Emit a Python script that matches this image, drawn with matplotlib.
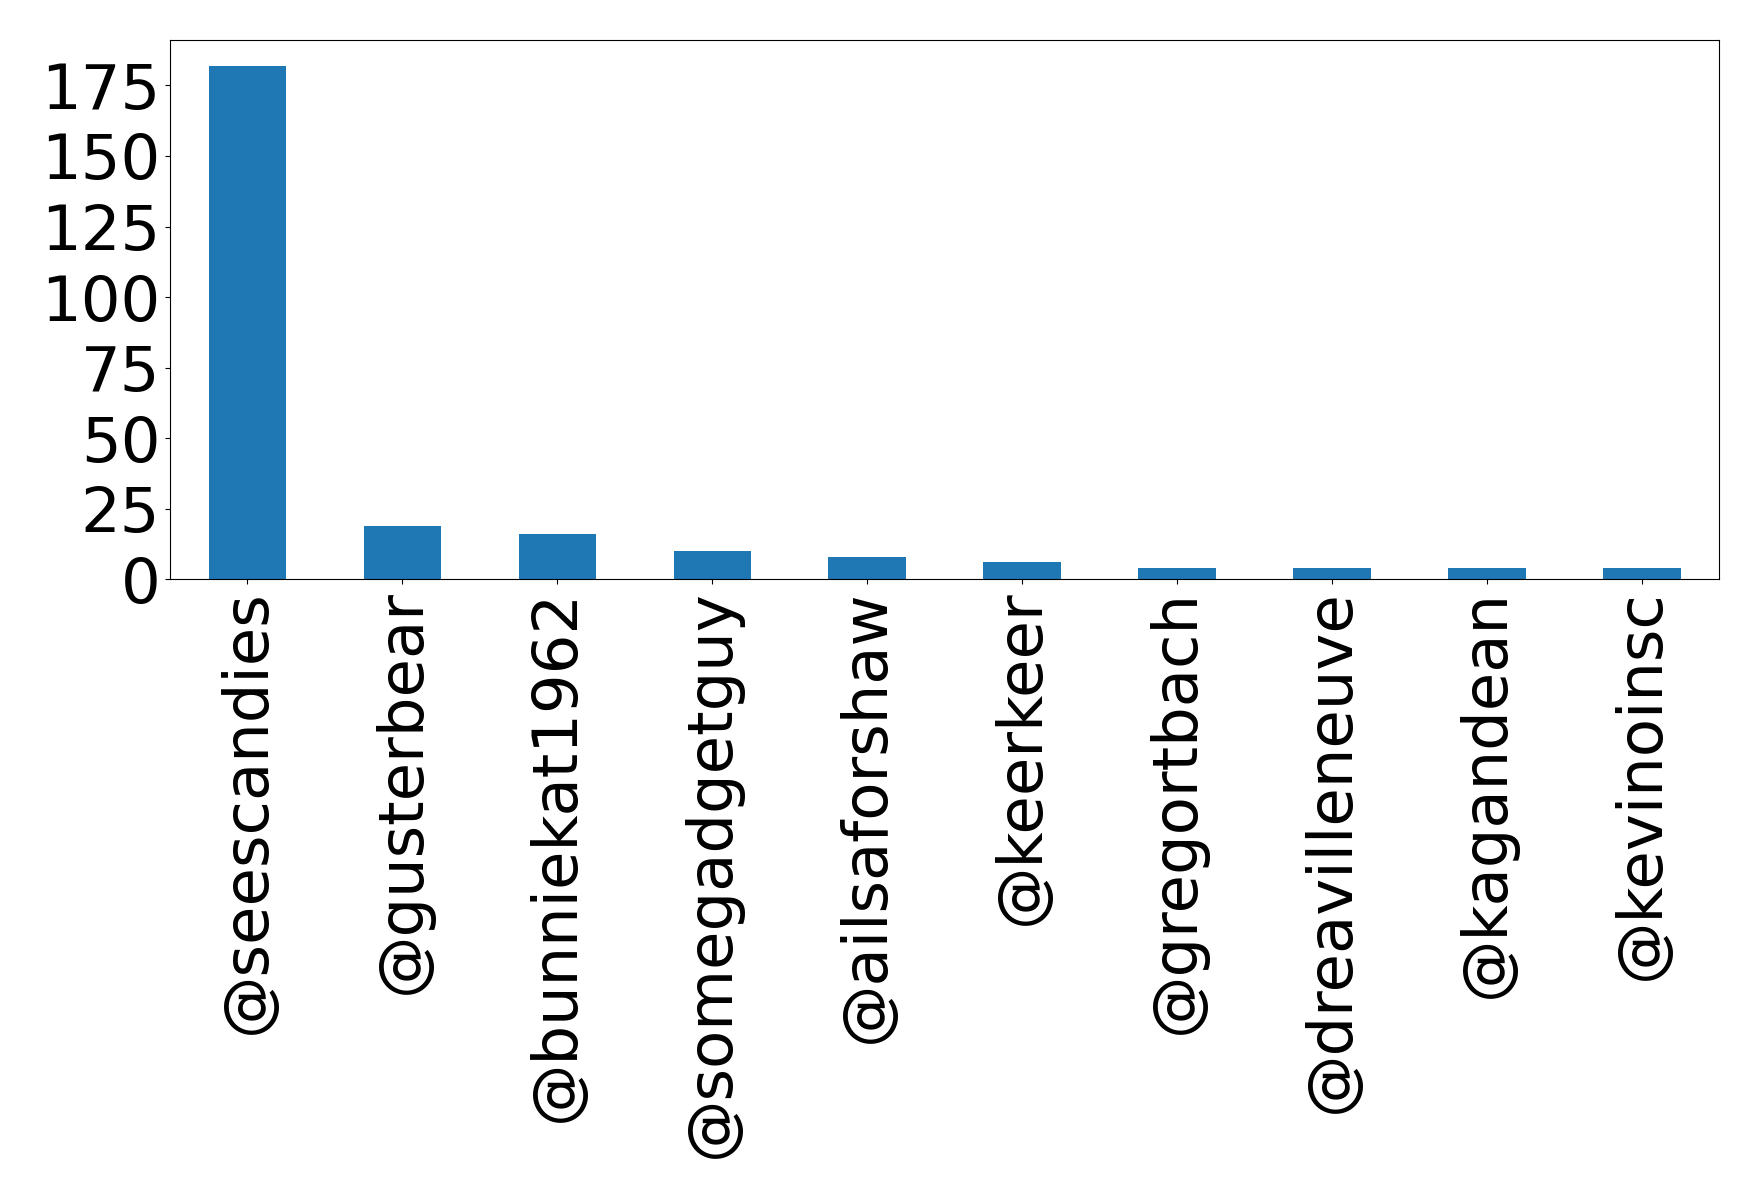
import matplotlib
matplotlib.use("Agg")
import matplotlib.pyplot as plt
import numpy as np

users = ["@seescandies", "@gusterbear", "@bunniekat1962", "@somegadgetguy",
         "@ailsaforshaw", "@keerkeer", "@gregortbach", "@dreavilleneuve",
         "@kagandean", "@kevinoinsc"]
counts = [182, 19, 16, 10, 8, 6, 4, 4, 4, 4]

fig = plt.figure(figsize=(17.58, 11.97), dpi=100)
ax = fig.add_axes([0.0967, 0.516, 0.8813, 0.4504])

x = np.arange(len(users))
ax.bar(x, counts, width=0.5, color="#1f77b4")
ax.set_xlim(-0.5, len(users) - 0.5)
ax.set_ylim(0, 191)
ax.set_xticks(x)
ax.set_xticklabels(users, rotation=90, fontsize=45)
ax.set_yticks(np.arange(0, 176, 25))
ax.tick_params(axis="y", labelsize=45)

fig.savefig("out.png", dpi=100)
